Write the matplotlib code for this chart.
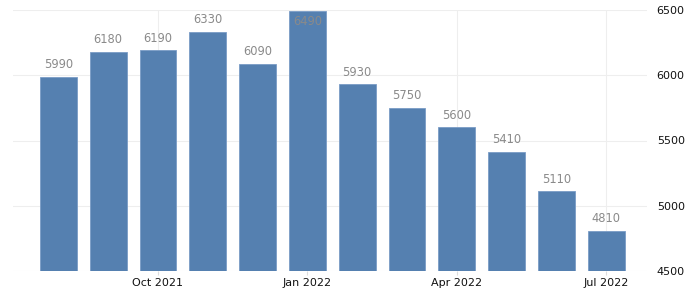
import matplotlib
matplotlib.use("Agg")
import matplotlib.pyplot as plt
import numpy as np

months = ["Aug 2021", "Sep 2021", "Oct 2021", "Nov 2021", "Dec 2021", "Jan 2022",
          "Feb 2022", "Mar 2022", "Apr 2022", "May 2022", "Jun 2022", "Jul 2022"]
values = [5990, 6180, 6190, 6330, 6090, 6490, 5930, 5750, 5600, 5410, 5110, 4810]
xtick_labels = ["Oct 2021", "Jan 2022", "Apr 2022", "Jul 2022"]
yticks = [4500, 5000, 5500, 6000, 6500]

fig = plt.figure(figsize=(7, 2.9), dpi=100)
ax = fig.add_axes([13/700, 19/290, 634/700, 261/290])

x = np.arange(len(months))
ax.bar(x, values, width=0.74, color="#5580b0", edgecolor="#7a9cc6", linewidth=0.6, zorder=3)

ymin, ymax = 4500, 6500
ax.set_ylim(ymin, ymax)
ax.set_xlim(-0.91, 11.82)

for xi, v in zip(x, values):
    if v + 170 > ymax:
        ax.text(xi, v - 30, f"{v}", ha="center", va="top", color="#8a8a8a", fontsize=8.3, zorder=4)
    else:
        ax.text(xi, v + 45, f"{v}", ha="center", va="bottom", color="#8a8a8a", fontsize=8.3, zorder=4)

tick_pos = [months.index(m) for m in xtick_labels]
ax.set_xticks(tick_pos)
ax.set_xticklabels(xtick_labels, fontsize=8, color="#111111")
ax.yaxis.tick_right()
ax.set_yticks(yticks)
ax.set_yticklabels([str(t) for t in yticks], fontsize=8, color="#111111")
ax.tick_params(axis="y", length=0, pad=7)
ax.tick_params(axis="x", length=3, color="#dddddd", pad=2)

ax.grid(True, color="#eeeeee", linewidth=0.8, zorder=0)
for s in ax.spines.values():
    s.set_visible(False)

fig.savefig("out.png", dpi=100)
